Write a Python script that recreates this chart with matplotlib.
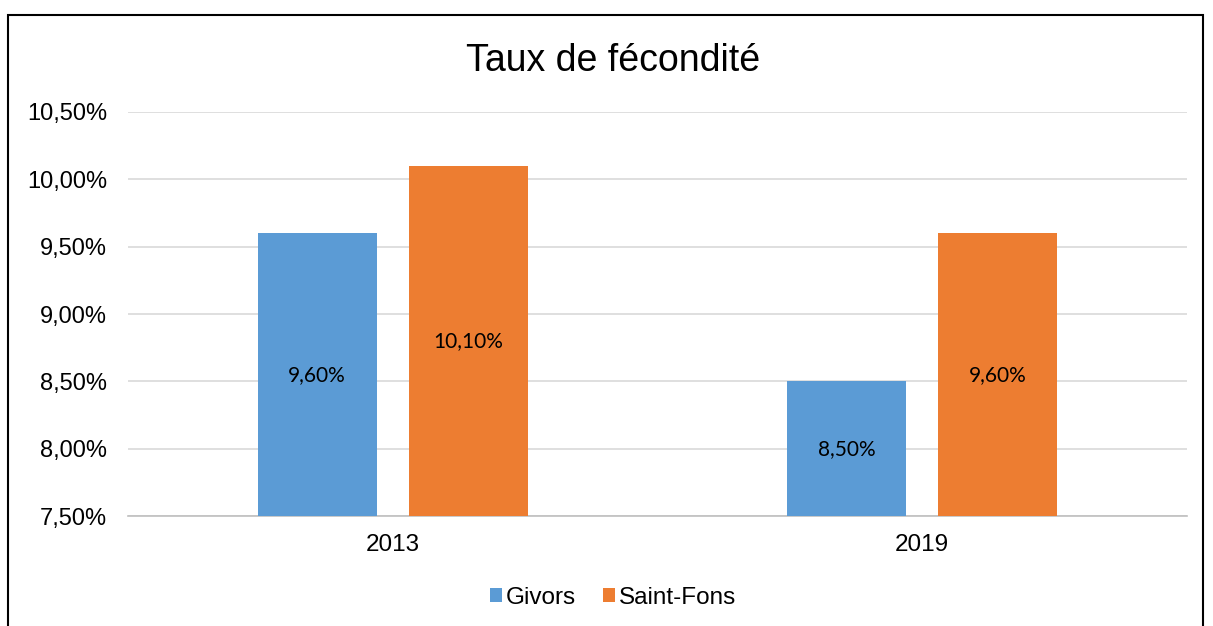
import matplotlib.pyplot as plt
import numpy as np
from matplotlib.patches import Rectangle

# data
years = ["2013", "2019"]
givors = [9.60, 8.50]
saint_fons = [10.10, 9.60]
y_ticks = [7.5, 8.0, 8.5, 9.0, 9.5, 10.0, 10.5]

blue = "#5b9bd5"
orange = "#ed7d31"

fig = plt.figure(figsize=(12.13, 6.26), dpi=100)
ax = fig.add_axes([0.1055, 0.1757, 0.873, 0.6454])

x = np.arange(len(years))
w = 0.225
off = 0.1426
b1 = ax.bar(x - off, np.array(givors) - 7.5, w, bottom=7.5, color=blue, label="Givors", zorder=3)
b2 = ax.bar(x + off, np.array(saint_fons) - 7.5, w, bottom=7.5, color=orange, label="Saint-Fons", zorder=3)

for bars, vals in ((b1, givors), (b2, saint_fons)):
    for r, v in zip(bars, vals):
        ax.text(r.get_x() + r.get_width() / 2, (7.5 + v) / 2,
                f"{v:.2f}%".replace(".", ","), ha="center", va="center",
                fontsize=15, family="Lato", color="black", zorder=4)

ax.set_xlim(-0.5, 1.5)
ax.set_ylim(7.5, 10.5)
ax.set_yticks(y_ticks)
ax.set_yticklabels([f"{t:.2f}%".replace(".", ",") for t in y_ticks],
                   fontsize=17, family="Liberation Sans")
ax.set_xticks(x)
ax.set_xticklabels(years, fontsize=17.5, family="Liberation Sans")
ax.tick_params(length=0)
ax.tick_params(axis="y", pad=15)
ax.tick_params(axis="x", pad=13)
ax.grid(axis="y", color="#d9d9d9", lw=1.2, zorder=0)
for s in ("top", "right", "left"):
    ax.spines[s].set_visible(False)
ax.spines["bottom"].set_color("#bfbfbf")
ax.spines["bottom"].set_linewidth(1.2)

fig.text(0.5055, 0.902, "Taux de fécondité", ha="center", va="center",
         fontsize=27, family="Liberation Sans")

leg = fig.legend(handles=[b1, b2], loc="center", bbox_to_anchor=(0.5055, 0.045),
                 ncol=2, frameon=False, handlelength=0.5, handleheight=0.5,
                 handletextpad=0.15, columnspacing=1.1, prop={"family": "Liberation Sans", "size": 17.5})

# outer frame
fig.patches.append(Rectangle((8 / 1213, -0.05), 1195 / 1213, 1 - 15 / 626 + 0.05,
                             transform=fig.transFigure, fill=False, edgecolor="black",
                             lw=1.5, clip_on=False))

plt.savefig("out.png", dpi=100)
